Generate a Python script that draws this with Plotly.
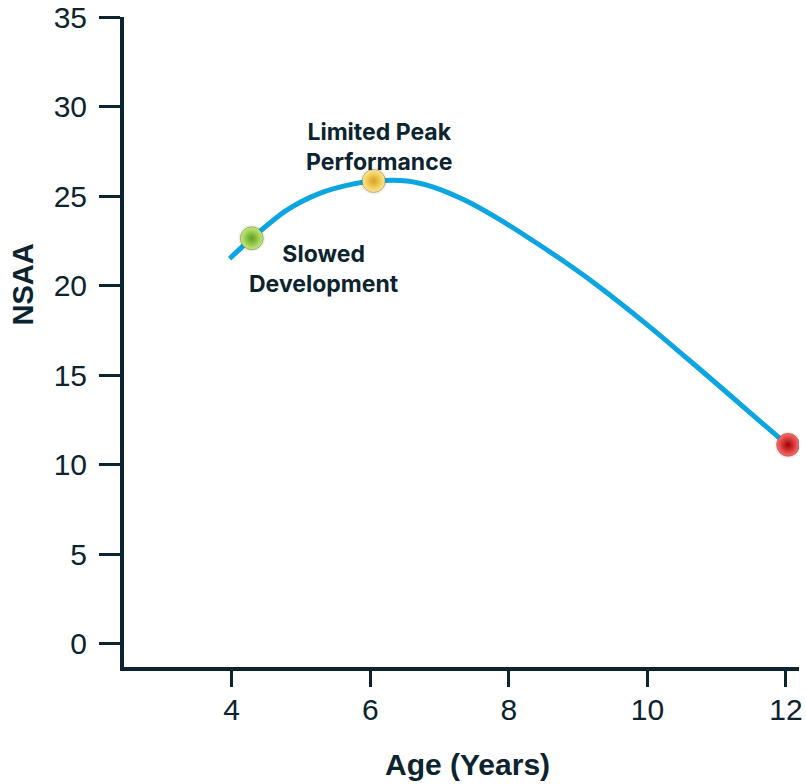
import plotly.graph_objects as go

# NSAA trajectory by age (smoothed curve)
ages = [3.97, 4.29, 4.79, 5.27, 5.76, 6.05, 6.53, 6.91, 7.39, 7.87, 8.35,
        8.84, 9.27, 9.99, 10.47, 10.95, 11.43, 11.87, 12.03]
nsaa = [21.5, 22.64, 24.2, 25.15, 25.68, 25.84, 25.84, 25.5, 24.72, 23.68, 22.5,
        21.23, 20.03, 17.83, 16.27, 14.68, 13.07, 11.6, 11.06]

# Milestone points along the curve
milestone_age = [4.29, 6.05, 12.03]
milestone_nsaa = [22.64, 25.84, 11.1]
milestone_center = ["#c4ec7c", "#ffe98f", "#ff6b6b"]
milestone_edge = ["#5e9e1f", "#d8a21c", "#a00000"]

# Text labels
label_text = ["Slowed<br>Development", "Limited Peak<br>Performance"]
label_age = [5.33, 6.13]
label_nsaa = [20.93, 27.75]

x_ticks = [4, 6, 8, 10, 12]
y_ticks = [0, 5, 10, 15, 20, 25, 30, 35]

x_title = "Age (Years)"
y_title = "NSAA"

ink = "#0c2330"

fig = go.Figure()

fig.add_trace(go.Scatter(
    x=ages, y=nsaa, mode="lines",
    line=dict(color="#0ba6e1", width=5, shape="spline", smoothing=0.8),
    hoverinfo="skip", showlegend=False,
))

# soft halo under each ball
fig.add_trace(go.Scatter(
    x=milestone_age, y=milestone_nsaa, mode="markers",
    marker=dict(size=27, color="rgba(0,0,0,0.06)", line=dict(width=0)),
    hoverinfo="skip", showlegend=False,
))

fig.add_trace(go.Scatter(
    x=milestone_age, y=milestone_nsaa, mode="markers",
    marker=dict(
        size=23, color=milestone_center,
        gradient=dict(type="radial", color=milestone_edge),
        line=dict(width=0.8, color="rgba(80,60,20,0.45)"),
    ),
    hoverinfo="skip", showlegend=False,
))

for txt, ax, ay in zip(label_text, label_age, label_nsaa):
    fig.add_annotation(
        x=ax, y=ay, text=txt, showarrow=False, align="center",
        font=dict(family="Inter", size=23, color=ink, weight="bold"),
    )

# axis titles
fig.add_annotation(
    xref="paper", yref="paper", x=0.5096, y=-0.1498, text=f"<b>{x_title}</b>",
    showarrow=False, xanchor="center", yanchor="middle",
    font=dict(size=30, color=ink),
)
fig.add_annotation(
    xref="paper", yref="paper", x=-0.1504, y=0.5893, text=f"<b>{y_title}</b>",
    showarrow=False, xanchor="center", yanchor="middle", textangle=-90,
    font=dict(size=29, color=ink),
)

fig.update_layout(
    width=806, height=784,
    margin=dict(l=124, r=7, t=17, b=117),
    paper_bgcolor="white", plot_bgcolor="white",
    font=dict(family="Liberation Sans, Arial", color=ink),
)

fig.update_xaxes(
    range=[2.446, 12.188], tickvals=x_ticks, automargin=False,
    showgrid=False, zeroline=False,
    showline=True, linecolor=ink, linewidth=4,
    ticks="outside", ticklen=16, tickwidth=2.5, tickcolor=ink,
    tickfont=dict(size=30, color=ink), ticklabelstandoff=-3,
)
fig.update_yaxes(
    range=[-1.31, 35], tickvals=y_ticks, automargin=False,
    showgrid=False, zeroline=False,
    showline=True, linecolor=ink, linewidth=4,
    ticks="outside", ticklen=21, tickwidth=2.5, tickcolor=ink,
    tickfont=dict(size=30, color=ink), ticklabelstandoff=6,
)

fig.write_html("out.html")
